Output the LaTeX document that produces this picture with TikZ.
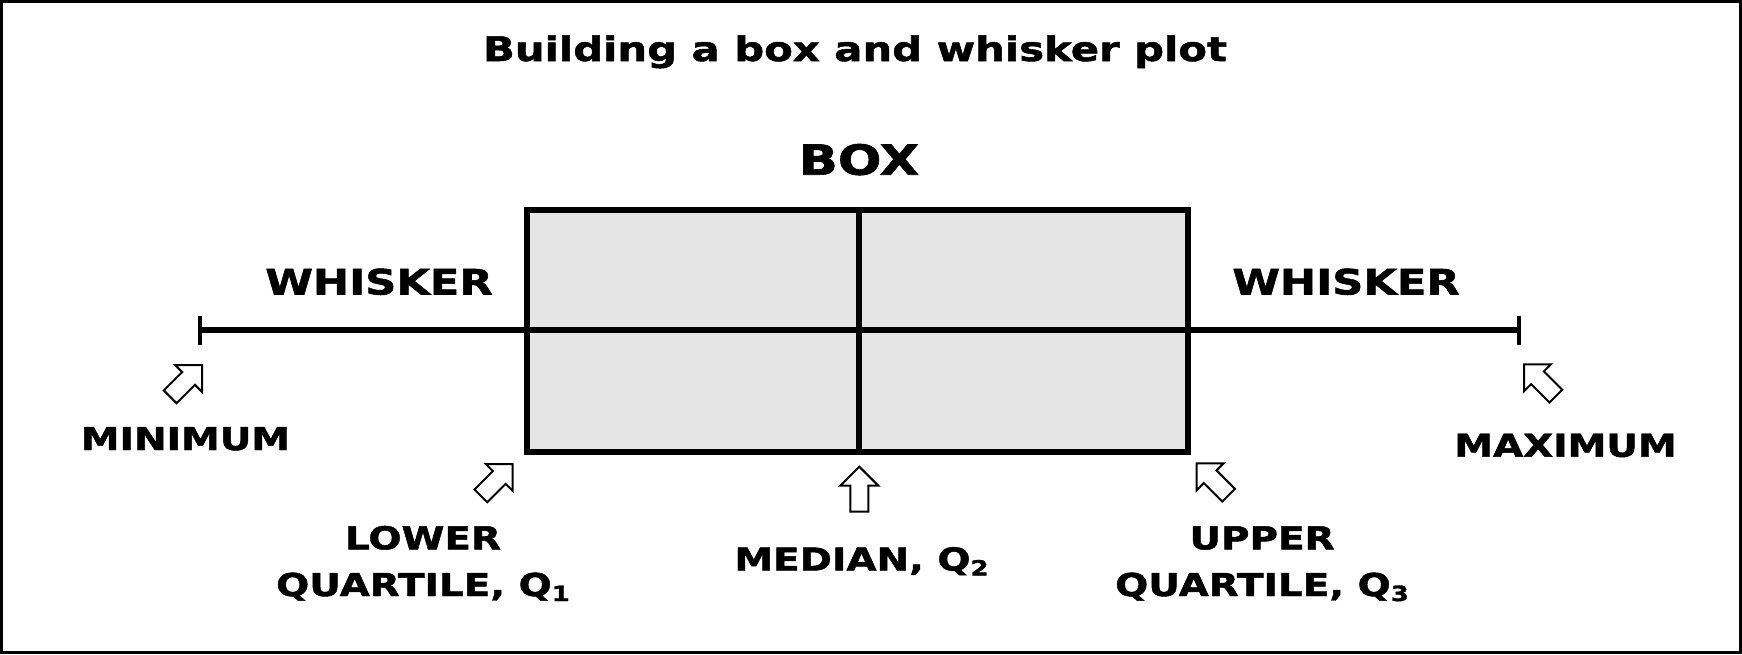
\documentclass[tikz,border=0pt]{standalone}
\usepackage{fontspec}
\newfontfamily\vb{DejaVu Sans Bold}[FakeStretch=1.235, FakeBold=1.5]
\definecolor{boxgray}{HTML}{E5E5E5}
\newcommand\qsub[1]{\raisebox{-5pt}{\fontsize{21}{21}\selectfont #1}}
\tikzset{
  big/.style={font=\vb\fontsize{35}{42}\selectfont, inner sep=0pt, anchor=base},
  lbl/.style={font=\vb\fontsize{31.5}{46.7}\selectfont, inner sep=0pt, anchor=base, align=center},
  hollow/.pic={\draw[line width=2pt, fill=white, line join=miter]
     (0,0) -- (-19,19) -- (-19,9) -- (-45,9) -- (-45,-9) -- (-19,-9) -- (-19,-19) -- cycle;}
}
\begin{document}
\begin{tikzpicture}[x=1pt,y=-1pt]
\useasboundingbox (0,0) rectangle (1742,654);
\draw[line width=3pt] (1.5,1.5) rectangle (1740.5,652.5);
% title
\node[font=\vb\fontsize{33.8}{40}\selectfont, inner sep=0pt, anchor=base] (title) at (855,61) {Building a box and whisker plot};
\node[font=\vb\fontsize{41.5}{50}\selectfont, inner sep=0pt, anchor=base] (boxlbl) at (859,174.7) {BOX};
% box
\node[draw, fill=boxgray, line width=6pt, outer sep=0pt, minimum width=660.7pt, minimum height=242.3pt, inner sep=0pt] (box) at (857.35,330.85) {};
\coordinate (wl) at (200,330);
\coordinate (wr) at (1519,330);
\draw[line width=6pt] (wl) -- (wr);
\draw[line width=6pt] (859,209.7) coordinate (mt) -- (859,452) coordinate (mb);
\draw[line width=6pt] (box.north west) rectangle (box.south east);
\draw[line width=4pt] ([yshift=-14.5pt]wl) -- ([yshift=14.5pt]wl);
\draw[line width=4pt] ([yshift=-14.5pt]wr) -- ([yshift=14.5pt]wr);
% labels
\node[big] (whl) at (379,294.5) {WHISKER};
\node[big] (whr) at (1346,294.5) {WHISKER};
\node[lbl] (min) at (185.5,450) {MINIMUM};
\node[lbl] (max) at (1565.5,456.7) {MAXIMUM};
\node[lbl] (med) at (861.5,570.5) {MEDIAN, Q\qsub{2}};
\node[lbl] (lq) at (423,596) {LOWER\\QUARTILE, Q\qsub{1}};
\node[lbl] (uq) at (1262,596) {UPPER\\QUARTILE, Q\qsub{3}};
% arrows
\pic[rotate=45] at (202,365) {hollow};
\pic[rotate=45] at (512.7,464) {hollow};
\pic[rotate=90] at (859.3,466.7) {hollow};
\pic[rotate=135] at (1196.7,463.3) {hollow};
\pic[rotate=135] at (1524,364.3) {hollow};
\end{tikzpicture}
\end{document}
